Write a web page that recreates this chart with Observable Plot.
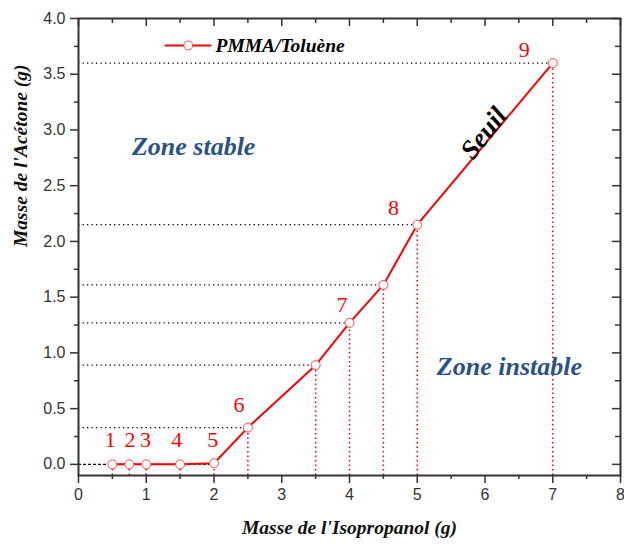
<!DOCTYPE html>
<html><head><meta charset="utf-8">
<script src="https://cdn.jsdelivr.net/npm/d3@7"></script>
<script src="https://cdn.jsdelivr.net/npm/@observablehq/plot@0.6"></script>
<style>body{margin:0;background:#fff}</style>
</head><body><div id="chart"></div>
<script>
// ---- data ----
const isopropanol = [0.5, 0.75, 1, 1.5, 2, 2.5, 3.5, 4, 4.5, 5, 7];
const acetone     = [0, 0, 0, 0, 0.01, 0.33, 0.89, 1.27, 1.61, 2.15, 3.6];
const pointLabels = ["1", "2", "3", "4", "5", "6", "7", "8", "9"];
const labelX      = [0.47, 0.76, 0.99, 1.45, 1.98, 2.37, 3.89, 4.65, 6.58];
const labelY      = [0.22, 0.22, 0.22, 0.22, 0.22, 0.53, 1.43, 2.30, 3.72];
const xTicks = [0, 1, 2, 3, 4, 5, 6, 7, 8];
const xMinor = [0.5, 1.5, 2.5, 3.5, 4.5, 5.5, 6.5, 7.5];
const yTicks = [0, 0.5, 1, 1.5, 2, 2.5, 3, 3.5, 4];
const yMinor = [0.25, 0.75, 1.25, 1.75, 2.25, 2.75, 3.25, 3.75];
const seriesName = "PMMA/Toluène";
const zoneNames = ["Zone stable", "Zone instable"];
const zoneX = [1.70, 6.36];
const zoneY = [2.85, 0.875];
const thresholdName = "Seuil";
const thresholdX = 5.98, thresholdY = 2.97;
const legendLineX = [1.284, 1.948], legendDotX = 1.62, legendY = 3.758;
const xTitle = "Masse de l'Isopropanol (g)";
const yTitle = "Masse de l'Acétone (g)";

// ---- build ----
const pts = isopropanol.map((x, i) => ({x, y: acetone[i]}));
const raised = pts.filter(d => d.y > 0.1);
const labels = pointLabels.map((t, i) => ({t, x: labelX[i], y: labelY[i]}));
const zones = zoneNames.map((t, i) => ({t, x: zoneX[i], y: zoneY[i]}));

const W = 624, H = 549, mt = 18, mr = 4, mb = 74, ml = 78;
const innerW = W - ml - mr, innerH = H - mt - mb;
const serif = "Liberation Serif, Times New Roman, serif";
const axisCol = "#333";

const chart = Plot.plot({
  width: W, height: H,
  marginTop: mt, marginRight: mr, marginBottom: mb, marginLeft: ml,
  x: {domain: [0, 8], label: null},
  y: {domain: [-0.1, 4], label: null},
  style: {fontFamily: "Liberation Sans, Arial, sans-serif", fontSize: "16px", color: axisCol, background: "#fff", overflow: "visible"},
  marks: [
    // guide lines
    Plot.ruleY([0], {x1: 0, x2: 2, stroke: "#000", strokeWidth: 1.2, strokeDasharray: "3 2"}),
    Plot.ruleY(raised, {y: "y", x1: 0, x2: "x", stroke: "#000", strokeWidth: 1.2, strokeDasharray: "1.3 3.2"}),
    Plot.ruleX(pts, {x: "x", y1: -0.1, y2: "y", stroke: "#ff0000", strokeWidth: 1.5, strokeDasharray: "1.5 3"}),
    // series
    Plot.line(pts, {x: "x", y: "y", stroke: "#ff0000", strokeWidth: 2}),
    Plot.dot(pts, {x: "x", y: "y", r: 4.5, stroke: "#ff4a4a", fill: "#fff", strokeWidth: 1}),
    // point numbers
    Plot.text(labels, {x: "x", y: "y", text: "t", fill: "#ff0000", fontSize: 22, fontFamily: serif}),
    // zone annotations
    Plot.text(zones, {x: "x", y: "y", text: "t", fill: "#2b5286", fontSize: 26, fontWeight: "bold", fontStyle: "italic", fontFamily: serif}),
    Plot.text([thresholdName], {x: thresholdX, y: thresholdY, text: d => d, rotate: -52, fill: "#000", fontSize: 27, fontWeight: "bold", fontStyle: "italic", fontFamily: serif}),
    // legend
    Plot.line(legendLineX, {x: d => d, y: legendY, stroke: "#ff0000", strokeWidth: 2}),
    Plot.dot([legendDotX], {x: d => d, y: legendY, r: 4.5, stroke: "#ff4a4a", fill: "#fff", strokeWidth: 1}),
    Plot.text([seriesName], {x: legendLineX[1], y: legendY, text: d => d, dx: 5, textAnchor: "start", fill: "#000", fontSize: 19.5, fontWeight: "bold", fontStyle: "italic", fontFamily: serif}),
    // axes
    Plot.frame({stroke: axisCol, strokeWidth: 2}),
    Plot.axisX(xTicks, {label: null, tickSize: 8, tickPadding: 5, tickFormat: d => String(d), strokeWidth: 1.5}),
    Plot.axisX(xMinor, {label: null, tickSize: 4, tickFormat: () => "", strokeWidth: 1.5}),
    Plot.axisY(yTicks, {label: null, tickSize: 8, tickPadding: 5, tickFormat: d => d.toFixed(1), strokeWidth: 1.5}),
    Plot.axisY(yMinor, {label: null, tickSize: 4, tickFormat: () => "", strokeWidth: 1.5}),
    Plot.ruleX(xTicks, {x: d => d, insetBottom: innerH - 8, stroke: axisCol, strokeWidth: 1.5}),
    Plot.ruleX(xMinor, {x: d => d, insetBottom: innerH - 5, stroke: axisCol, strokeWidth: 1.5}),
    Plot.ruleY(yTicks, {y: d => d, insetLeft: innerW - 8, stroke: axisCol, strokeWidth: 1.5}),
    Plot.ruleY(yMinor, {y: d => d, insetLeft: innerW - 5, stroke: axisCol, strokeWidth: 1.5}),
    // axis titles
    Plot.text([xTitle], {frameAnchor: "bottom", text: d => d, dy: 58, fill: "#111", fontSize: 19.5, fontWeight: "bold", fontStyle: "italic", fontFamily: serif}),
    Plot.text([yTitle], {frameAnchor: "left", text: d => d, dx: -58, rotate: -90, fill: "#111", fontSize: 19.5, fontWeight: "bold", fontStyle: "italic", fontFamily: serif})
  ]
});
document.getElementById("chart").appendChild(chart);
</script>
</body></html>
